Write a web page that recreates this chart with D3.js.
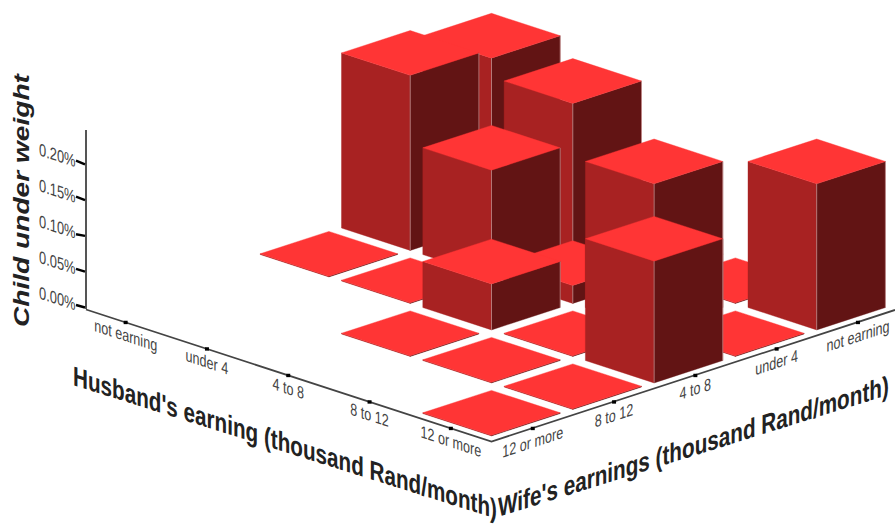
<!DOCTYPE html>
<html>
<head>
<meta charset="utf-8">
<script src="https://cdn.jsdelivr.net/npm/d3@7"></script>
<style>
  html, body { margin: 0; padding: 0; background: #fff; }
  svg { display: block; }
  text { font-family: "Liberation Sans", Arial, sans-serif; }
</style>
</head>
<body>
<svg id="chart" width="895" height="526"></svg>
<script>
// Percent of children under weight, by husband's and wife's earnings bracket.
const husbandLabels = ["not earning", "under 4", "4 to 8", "8 to 12", "12 or more"];
const wifeLabels = ["12 or more", "8 to 12", "4 to 8", "under 4", "not earning"];
const valueTicks = [0, 0.05, 0.10, 0.15, 0.20];

// One row per husband bracket, ordered as wifeLabels; null means no such group.
const notEarningRow = [null, null, 0.001, 0.2445, 0.2315];
const under4Row = [null, null, 0.001, 0.149, 0.2053];
const from4to8Row = [null, 0.001, 0.0642, 0.025, 0.001];
const from8to12Row = [null, 0.001, 0.001, 0.204, 0.001];
const over12Row = [0.001, 0.001, 0.170, 0.001, 0.204];
const rows = [notEarningRow, under4Row, from4to8Row, from8to12Row, over12Row];

const svg = d3.select("#chart");

// Oblique floor projection: both category axes run along fixed screen slopes.
const stepX = 81.3, stepY = 26.5;
const corner = { x: 85, y: 309 };
const floor = (h, w) => [
  corner.x + stepX * (h + w),
  corner.y + stepY * (h - w)
];

const band = (labels) => d3.scaleBand().domain(labels).range([0, 5])
  .paddingInner(0.155).paddingOuter(0.0775);
const hScale = band(husbandLabels);
const wScale = band(wifeLabels);
const zScale = d3.scaleLinear().domain([0, 0.25]).range([0, 179]);

const colors = { top: "#ff3535", front: "#a82222", side: "#621414", edge: "#cf9a9a" };
const axisColor = "#444444";
const lift = 1.5;
const polygon = d3.line();

// Column list, painted from the back of the floor to the front.
const cells = [];
rows.forEach((row, i) => row.forEach((v, j) => {
  if (v !== null) cells.push({ h: husbandLabels[i], w: wifeLabels[j], v, depth: i - j });
}));
cells.sort((a, b) => d3.ascending(a.depth, b.depth));

const bars = svg.append("g");
cells.forEach(c => {
  const bw = hScale.bandwidth();
  const h0 = hScale(c.h), h1 = h0 + bw, w0 = wScale(c.w), w1 = w0 + bw;
  const z = zScale(c.v);
  const at = (h, w, up) => { const [x, y] = floor(h, w); return [x, y - lift - up]; };
  const face = (pts, fill) => bars.append("path")
    .attr("d", polygon(pts) + "Z").attr("fill", fill)
    .attr("stroke", fill).attr("stroke-width", 0.4);

  face([at(h0, w0, 0), at(h1, w0, 0), at(h1, w0, z), at(h0, w0, z)], colors.front);
  face([at(h1, w0, 0), at(h1, w1, 0), at(h1, w1, z), at(h1, w0, z)], colors.side);
  face([at(h0, w0, z), at(h1, w0, z), at(h1, w1, z), at(h0, w1, z)], colors.top);

  if (z > 5) {
    [[h1, w0], [h1, w1]].forEach(([a, b]) => {
      const [p, q] = [at(a, b, 0), at(a, b, z)];
      bars.append("line")
        .attr("x1", p[0]).attr("y1", p[1]).attr("x2", q[0]).attr("y2", q[1])
        .attr("stroke", colors.edge).attr("stroke-width", 0.7);
    });
  }
});

// Axis lines.
const axes = svg.append("g").attr("stroke", axisColor).attr("stroke-width", 1.8).attr("fill", "none");
const front = floor(5, 0), back = floor(0, 0);
const zAxisX = 86;
const wifeEndY = front[1] - stepY / stepX * (895 - front[0]);
axes.append("path").attr("d", polygon([[zAxisX, back[1] + 0.5], front, [895, wifeEndY]]));
axes.append("line").attr("x1", zAxisX).attr("y1", back[1]).attr("x2", zAxisX).attr("y2", back[1] - zScale(0.25))
  .attr("stroke-width", 2).attr("stroke", "#555");

// Text that follows a floor edge: baseline along the edge, glyph stems kept vertical.
const slope = stepY / stepX;
const edgeText = (x, y, run, str, size, sx, sy) => svg.append("text")
  .attr("transform", `matrix(${sx},${sx * run},0,${sy},${x},${y})`)
  .attr("font-size", size).text(str);

// Same, with the horizontal scale chosen so the text spans a given screen width.
const fittedTitle = (x, y, run, str, size, span, sy) => {
  const t = edgeText(x, y, run, str, size, 1, sy)
    .attr("font-weight", "bold").attr("fill", "#222");
  const sx = span / t.node().getComputedTextLength();
  t.attr("transform", `matrix(${sx},${sx * run},0,${sy},${x},${y})`);
  return t;
};

// Category ticks and labels on both floor axes.
husbandLabels.forEach((label) => {
  const h = hScale(label) + hScale.bandwidth() / 2;
  const [x, y] = floor(h, 0);
  svg.append("rect").attr("x", x - 2).attr("y", y - 1.5).attr("width", 4).attr("height", 3.4).attr("fill", "#000");
  edgeText(x, y + 19, slope, label, 14, 0.9, 1.22).attr("text-anchor", "middle").attr("fill", axisColor);
});
wifeLabels.forEach((label) => {
  const w = wScale(label) + wScale.bandwidth() / 2;
  const [x0, y] = floor(5, w);
  const x = x0 + 0.6;
  svg.append("rect").attr("x", x - 2).attr("y", y - 1.5).attr("width", 4).attr("height", 3.4).attr("fill", "#000");
  edgeText(x, y + 19.5, -slope, label, 14, 0.9, 1.22).attr("text-anchor", "middle").attr("fill", axisColor);
});

// Value ticks and labels on the upright axis.
valueTicks.forEach((v, i) => {
  const y = back[1] - 1.5 - zScale(v);
  const drop = 2.5 + i * 0.3 - (i === 2 ? 1.5 : 0);
  svg.append("line")
    .attr("x1", zAxisX - 10).attr("y1", y - drop).attr("x2", zAxisX - 1).attr("y2", y)
    .attr("stroke", "#000").attr("stroke-width", 2.4);
  edgeText(39, y - 9, slope, d3.format(".2f")(v) + "%", 14, 0.92, 1.25).attr("fill", axisColor);
});

// Axis titles.
fittedTitle(73, 385, 0.316, "Husband's earning (thousand Rand/month)", 22, 424, 1.24);
fittedTitle(498, 517, -0.313, "Wife's earnings (thousand Rand/month)", 22, 391, 1.24);
const zTitle = svg.append("text")
  .attr("font-size", 22).attr("font-weight", "bold").attr("font-style", "italic")
  .attr("fill", "#222").text("Child under weight");
const zFit = 253 / zTitle.node().getComputedTextLength();
zTitle.attr("transform", `translate(29,327) rotate(-90) scale(${zFit},1)`);
</script>
</body>
</html>
